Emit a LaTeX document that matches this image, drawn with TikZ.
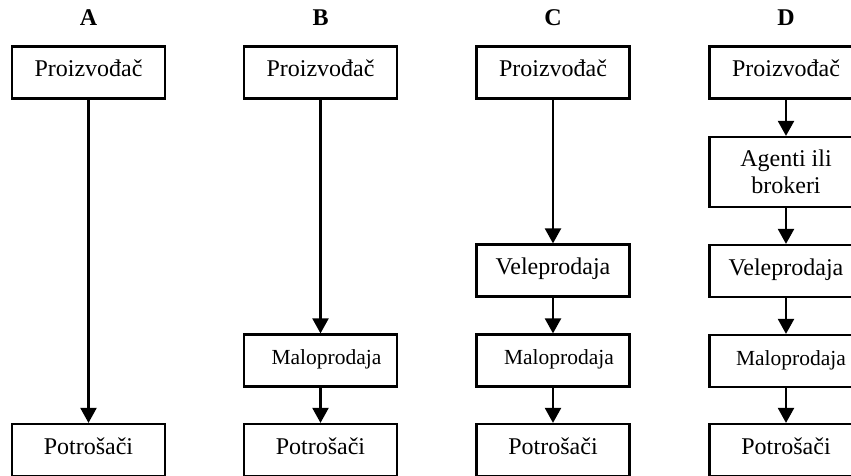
\documentclass[tikz,border=0pt]{standalone}
\usepackage{fontspec}
\setmainfont{Liberation Serif}
\usetikzlibrary{arrows.meta}
\begin{document}
\begin{tikzpicture}[x=1pt,y=-1pt,
  box/.style={draw, line width=2.2pt, minimum width=153pt, minimum height=52pt,
    inner sep=0pt, font=\fontsize{24}{26.5}\selectfont, text height=16pt, text depth=8pt},
  small/.style={font=\fontsize{21.5}{24}\selectfont},
  tall/.style={minimum height=70pt, text height=, text depth=, align=center},
  head/.style={font=\bfseries\fontsize{24}{27}\selectfont, anchor=base, inner sep=0pt},
  flow/.style={line width=2.2pt, -{Triangle[width=16pt,length=15pt]}}]
\useasboundingbox (0,0) rectangle (851,476);
\clip (0,0) rectangle (851,476);

% column headings
\node[head] (hA) at (88.5,26) {A};
\node[head] (hB) at (320.5,26) {B};
\node[head] (hC) at (553,26) {C};
\node[head] (hD) at (786,26) {D};

% A: direct channel
\node[box] (pA) at (88.5,72.5) {Proizvođač};
\node[box] (cA) at (88.5,450) {Potrošači};
\draw[flow] (pA) -- (cA);

% B: one intermediary
\node[box] (pB) at (320.5,72.5) {Proizvođač};
\node[box,small] (mB) at (320.5,360.5) {\hspace*{12pt}Maloprodaja};
\node[box] (cB) at (320.5,450) {Potrošači};
\draw[flow] (pB) -- (mB);
\draw[flow] (mB) -- (cB);

% C: two intermediaries
\node[box] (pC) at (553,72.5) {Proizvođač};
\node[box] (vC) at (553,270.5) {Veleprodaja};
\node[box,small] (mC) at (553,360.5) {\hspace*{12pt}Maloprodaja};
\node[box] (cC) at (553,450) {Potrošači};
\draw[flow] (pC) -- (vC);
\draw[flow] (vC) -- (mC);
\draw[flow] (mC) -- (cC);

% D: three intermediaries
\node[box] (pD) at (786,72.5) {Proizvođač};
\node[box,tall] (aD) at (786,172) {Agenti ili\\brokeri};
\node[box] (vD) at (786,271) {Veleprodaja};
\node[box,small] (mD) at (786,361) {\hspace*{10pt}Maloprodaja};
\node[box] (cD) at (786,450) {Potrošači};
\draw[flow] (pD) -- (aD);
\draw[flow] (aD) -- (vD);
\draw[flow] (vD) -- (mD);
\draw[flow] (mD) -- (cD);
\end{tikzpicture}
\end{document}
